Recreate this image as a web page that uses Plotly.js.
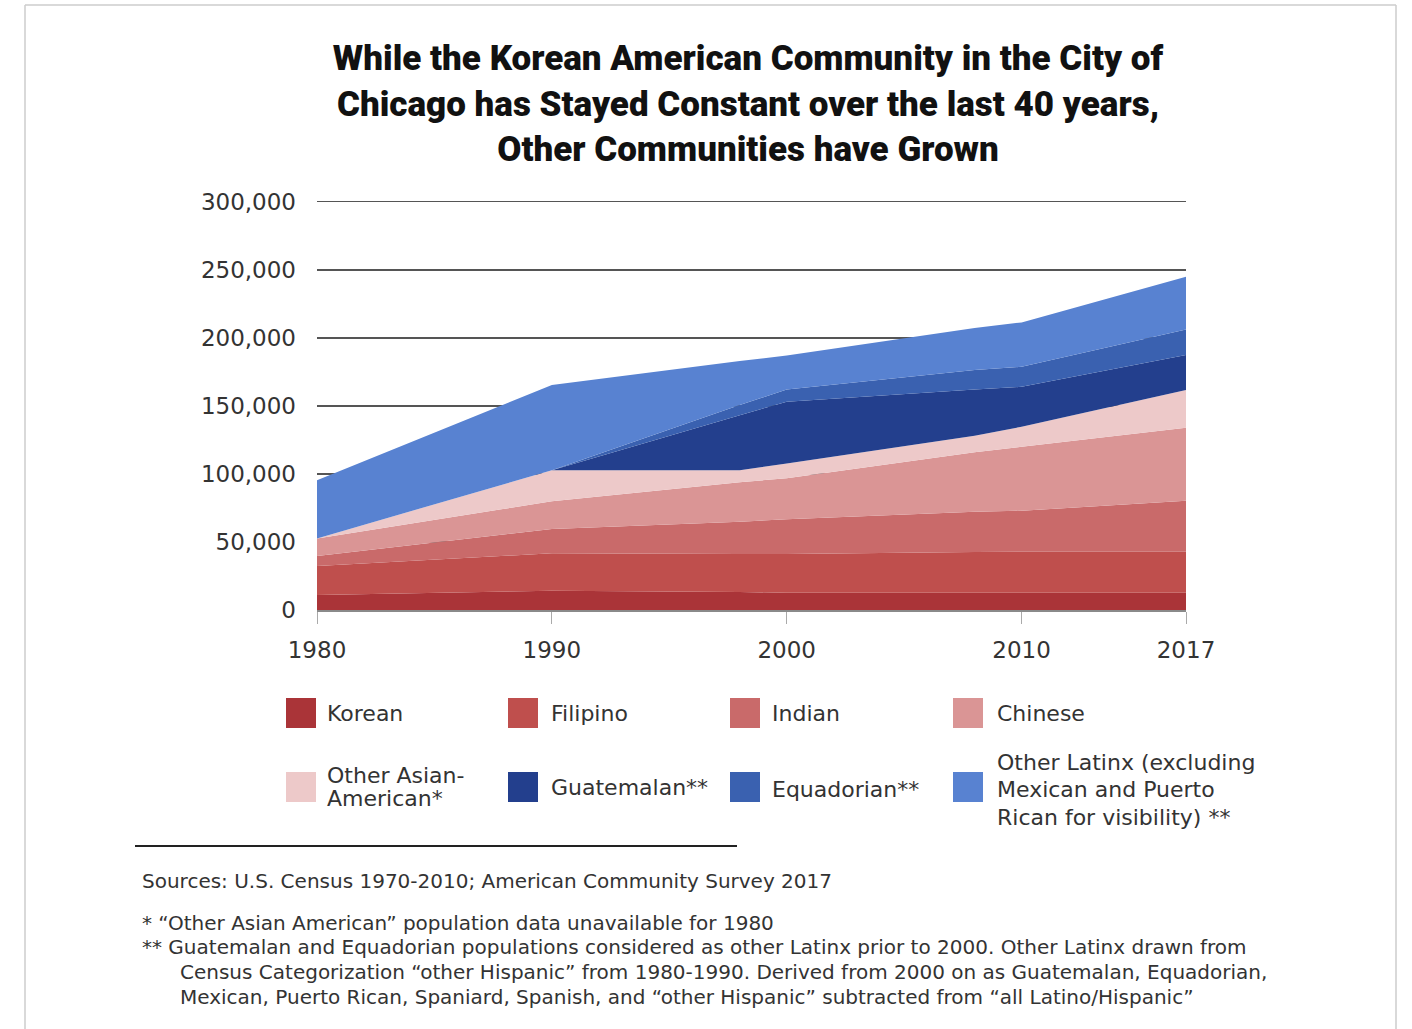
<!DOCTYPE html>
<html>
<head>
<meta charset="utf-8">
<script src="https://cdn.plot.ly/plotly-3.0.1.min.js"></script>
<style>
html, body { margin: 0; padding: 0; background: #ffffff; }
#chart { width: 1412px; height: 1029px; }
</style>
</head>
<body>
<div id="chart"></div>
<script>
// ---------- DATA ----------
const years = [1980, 1990, 1998, 2000, 2008, 2010, 2017];

const korean      = [11000, 14200, 13200, 12700, 12700, 12700, 12700];
const filipino    = [21300, 27500, 28000, 28400, 29900, 30100, 30100];
const indian      = [7300, 17900, 23700, 25500, 29600, 30100, 37500];
const chinese     = [13000, 20300, 28900, 30300, 43700, 47000, 53600];
const otherAsian  = [0, 22800, 8800, 10800, 12200, 14700, 27700];
const guatemalan  = [0, 0, 40500, 45300, 33900, 29400, 25700];
const equadorian  = [0, 0, 7500, 9100, 14300, 14700, 18900];
const otherLatinx = [42800, 62700, 32300, 24900, 30900, 32600, 38700];

const seriesNames = ["Korean", "Filipino", "Indian", "Chinese",
  "Other Asian-American*", "Guatemalan**", "Equadorian**",
  "Other Latinx (excluding Mexican and Puerto Rican for visibility) **"];
const seriesValues = [korean, filipino, indian, chinese, otherAsian, guatemalan, equadorian, otherLatinx];
const seriesColors = ["#aa3438", "#bf4f4d", "#c96a6a", "#da9595", "#edc9c9", "#233f8d", "#3a61b0", "#5882d1"];

const legendLabels = [
  ["Korean"], ["Filipino"], ["Indian"], ["Chinese"],
  ["Other Asian-", "American*"], ["Guatemalan**"], ["Equadorian**"],
  ["Other Latinx (excluding", "Mexican and Puerto", "Rican for visibility) **"]
];

const xTickVals = [1980, 1990, 2000, 2010, 2017];
const xTickText = ["1980", "1990", "2000", "2010", "2017"];
const yTickVals = [0, 50000, 100000, 150000, 200000, 250000, 300000];
const yTickText = ["0", "50,000", "100,000", "150,000", "200,000", "250,000", "300,000"];

const titleText = "While the Korean American Community in the City of<br>Chicago has Stayed Constant over the last 40 years,<br>Other Communities have Grown";
const footLines = [
  "Sources: U.S. Census 1970-2010; American Community Survey 2017",
  "* \u201cOther Asian American\u201d population data unavailable for 1980",
  "** Guatemalan and Equadorian populations considered as other Latinx prior to 2000. Other Latinx drawn from",
  "Census Categorization \u201cother Hispanic\u201d from 1980-1990. Derived from 2000 on as Guatemalan, Equadorian,",
  "Mexican, Puerto Rican, Spaniard, Spanish, and \u201cother Hispanic\u201d subtracted from \u201call Latino/Hispanic\u201d"
];

// ---------- LAYOUT GEOMETRY ----------
const W = 1412, H = 1029;
const L = 317, R = 1186, T = 199, B = 610;
const yMax = 302000;
function px(x) { return (x - L) / (R - L); }
function py(y) { return (B - y) / (B - T); }

const bodyFont = "DejaVu Sans, Verdana, sans-serif";
const textColor = "#333333";

// ---------- TRACES ----------
const traces = seriesNames.map((name, i) => ({
  type: "scatter",
  mode: "none",
  x: years,
  y: seriesValues[i],
  name: name,
  stackgroup: "one",
  fillcolor: seriesColors[i],
  line: { width: 0, color: seriesColors[i] },
  hoverinfo: "skip",
  showlegend: false
}));

// ---------- LEGEND (drawn as shapes + annotations) ----------
const shapes = [];
const annotations = [];
const colSwatchX = [286, 508, 730, 953];
const colTextX = [325, 549, 770, 995];
const rowSwatchTop = [698, 772];
const lineCenters = [
  [713], [713], [713], [713],
  [775, 798], [787], [789],
  [762, 789.5, 817]
];
legendLabels.forEach((lines, i) => {
  const col = i % 4, row = Math.floor(i / 4);
  const x0 = colSwatchX[col], y0 = rowSwatchTop[row];
  shapes.push({
    type: "rect", xref: "paper", yref: "paper",
    x0: px(x0), x1: px(x0 + 30), y0: py(y0), y1: py(y0 + 30),
    fillcolor: seriesColors[i], line: { width: 0 }
  });
  lines.forEach((ln, k) => {
    annotations.push({
      xref: "paper", yref: "paper", x: px(colTextX[col]), y: py(lineCenters[i][k]),
      xanchor: "left", yanchor: "middle", showarrow: false, text: ln,
      font: { family: bodyFont, size: 22, color: textColor }
    });
  });
});

// separator line
shapes.push({ type: "line", xref: "paper", yref: "paper",
  x0: px(135), x1: px(737), y0: py(846), y1: py(846),
  line: { color: "#222222", width: 2 } });

// outer frame
shapes.push({ type: "line", xref: "paper", yref: "paper",
  x0: px(25), x1: px(25), y0: py(5), y1: py(1040), line: { color: "#cccccc", width: 1.5 } });
shapes.push({ type: "line", xref: "paper", yref: "paper",
  x0: px(25), x1: px(1396), y0: py(5), y1: py(5), line: { color: "#cccccc", width: 1.5 } });
shapes.push({ type: "line", xref: "paper", yref: "paper",
  x0: px(1396), x1: px(1396), y0: py(5), y1: py(1040), line: { color: "#cccccc", width: 1.5 } });

// footnotes
const footPos = [[140, 881], [140, 923], [140, 947], [178, 972], [178, 997]];
footLines.forEach((t, i) => {
  annotations.push({
    xref: "paper", yref: "paper", x: px(footPos[i][0]), y: py(footPos[i][1]),
    xanchor: "left", yanchor: "middle", showarrow: false, text: t,
    font: { family: bodyFont, size: 20, color: textColor }
  });
});

const layout = {
  width: W, height: H,
  margin: { l: L, r: W - R, t: T, b: H - B, pad: 0 },
  paper_bgcolor: "#ffffff",
  plot_bgcolor: "#ffffff",
  showlegend: false,
  title: {
    text: titleText,
    x: 748 / W, xanchor: "center", xref: "container",
    y: 1 - 70 / H, yanchor: "top", yref: "container",
    font: { family: "Roboto, Lato, sans-serif", size: 35, weight: 900, color: "#111111" }
  },
  xaxis: {
    range: [1980, 2017],
    tickvals: xTickVals, ticktext: xTickText,
    ticks: "outside", ticklen: 12, tickcolor: "#aaaaaa", tickwidth: 1,
    ticklabelstandoff: 6,
    showgrid: false, zeroline: false,
    showline: true, linecolor: "#8a8a8a", linewidth: 2,
    tickfont: { family: bodyFont, size: 23, color: textColor },
    fixedrange: true
  },
  yaxis: {
    range: [0, yMax],
    tickvals: yTickVals, ticktext: yTickText,
    ticks: "", showgrid: true, gridcolor: "#555555", gridwidth: 1.5,
    zeroline: false, showline: false,
    ticklabelstandoff: 20,
    tickfont: { family: bodyFont, size: 23, color: textColor },
    fixedrange: true
  },
  shapes: shapes,
  annotations: annotations
};

Plotly.newPlot("chart", traces, layout, { displayModeBar: false, staticPlot: true });
</script>
</body>
</html>
